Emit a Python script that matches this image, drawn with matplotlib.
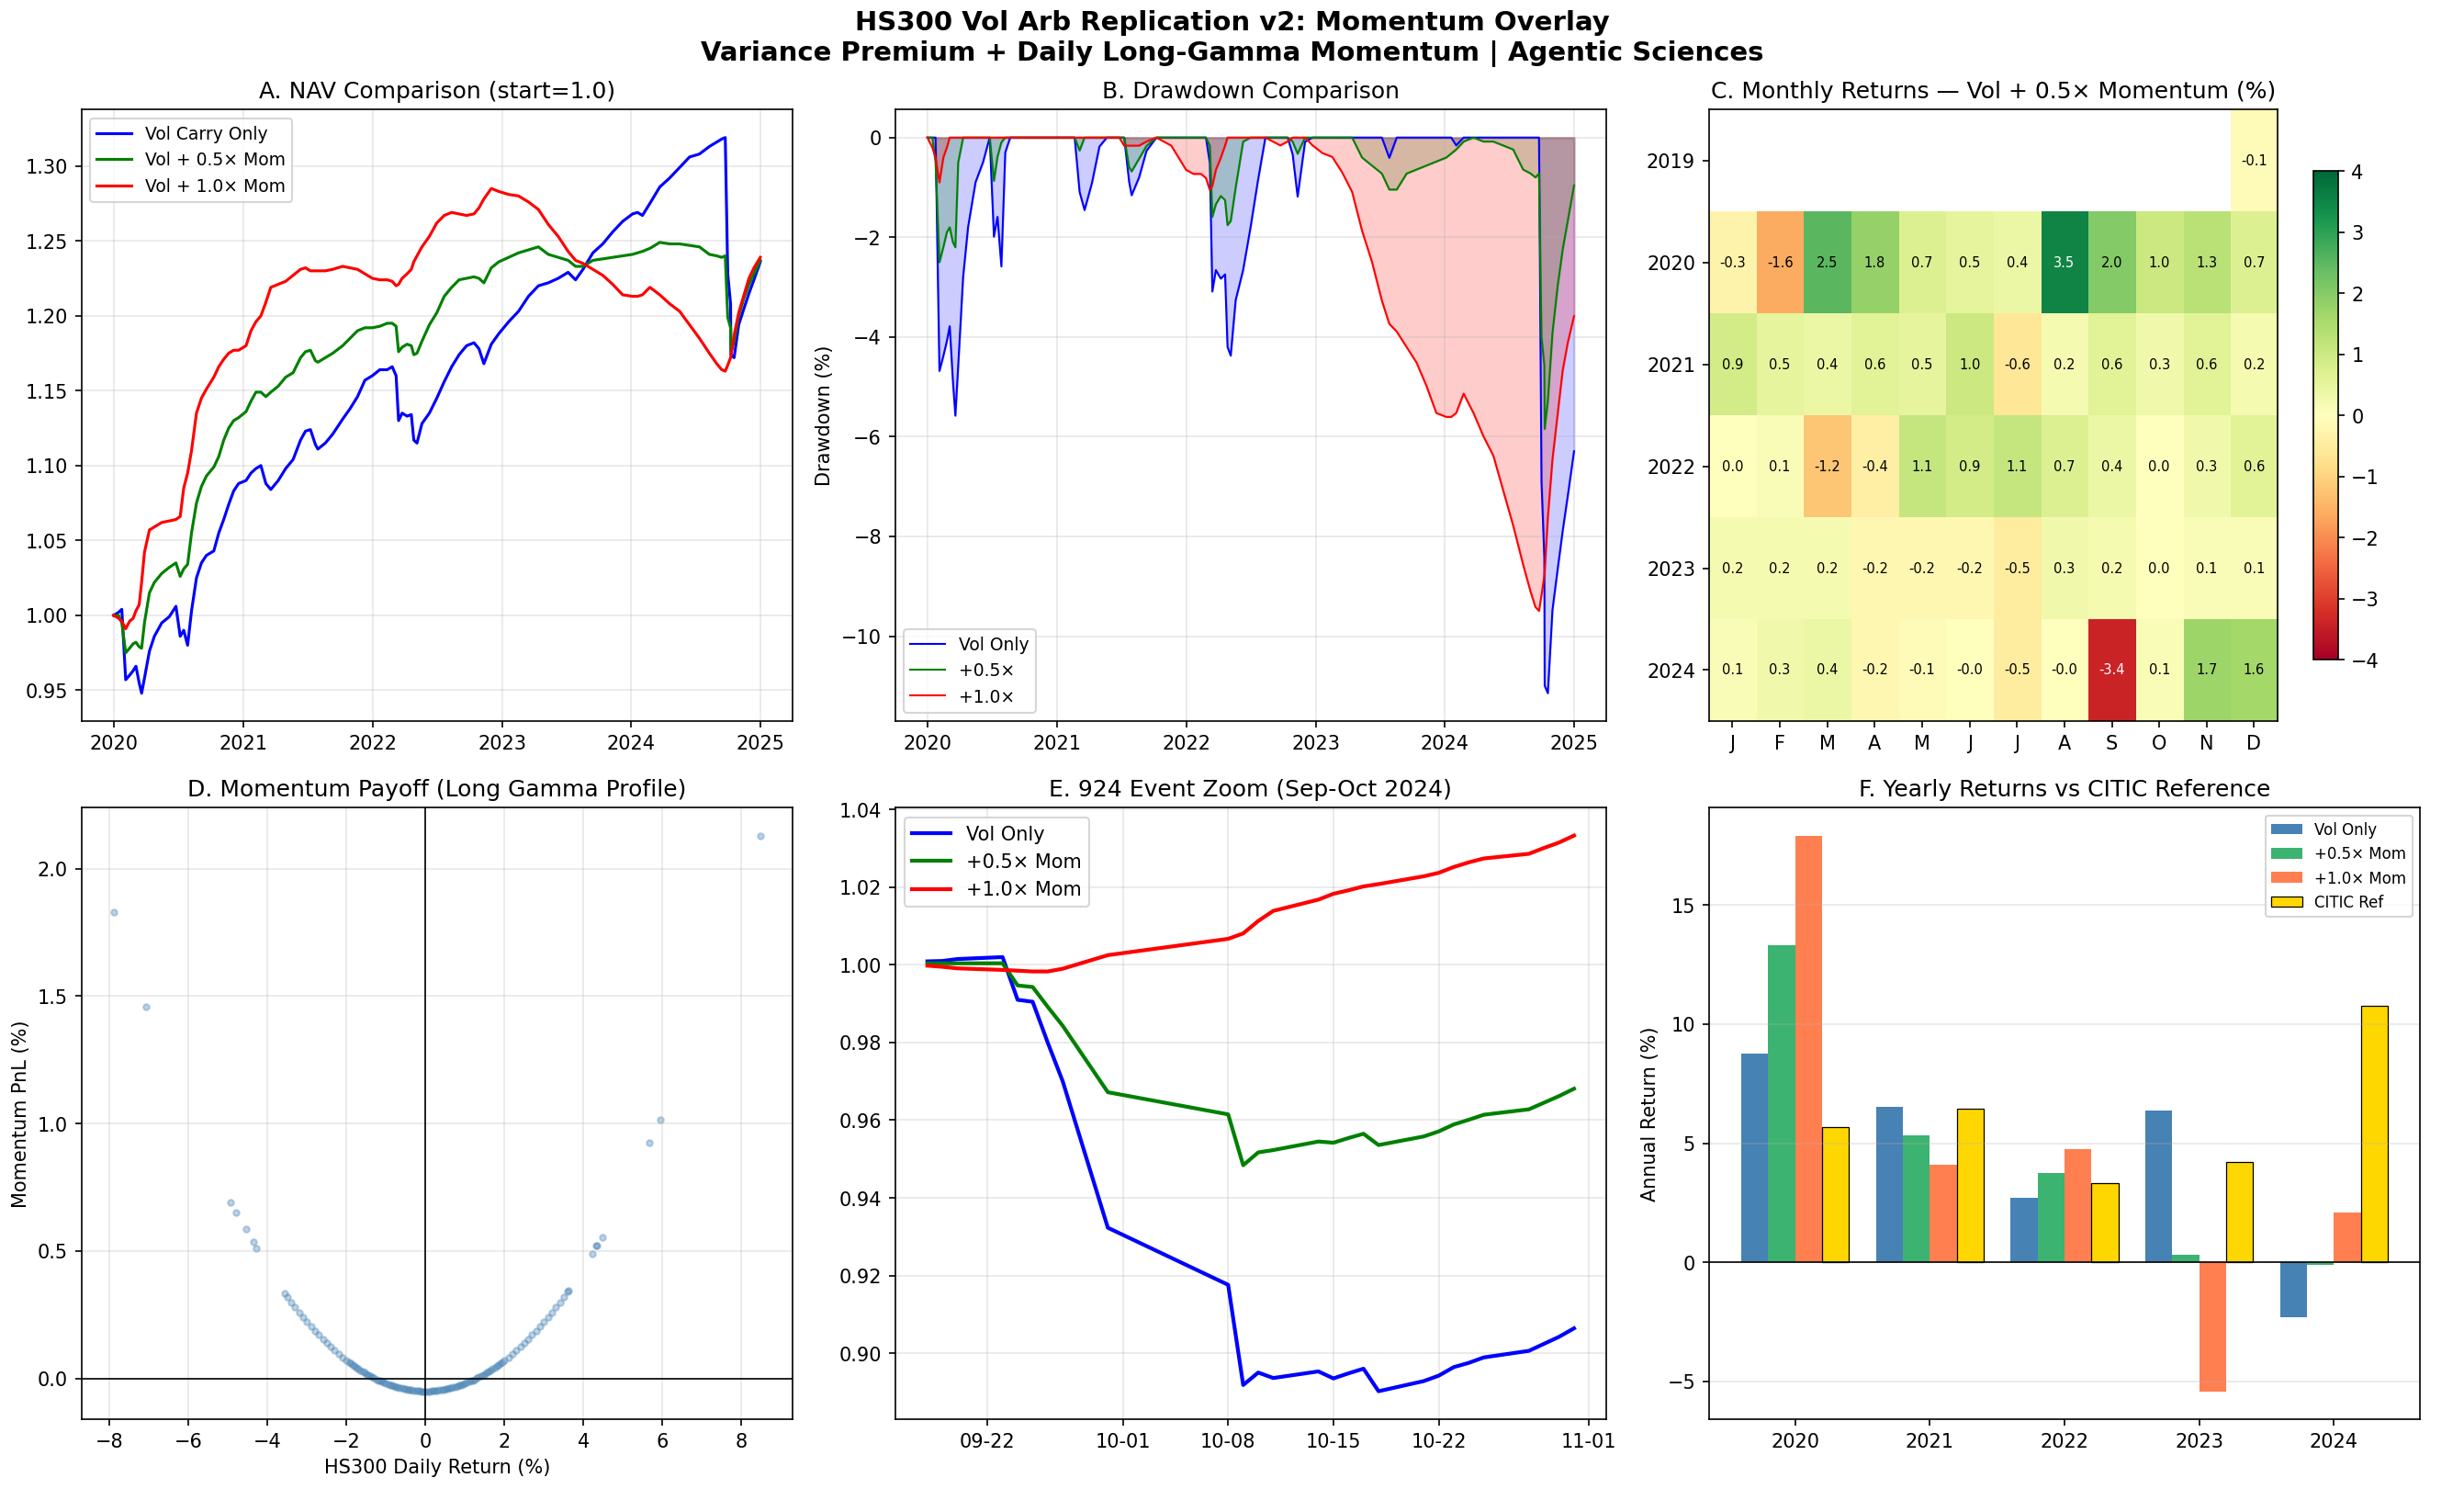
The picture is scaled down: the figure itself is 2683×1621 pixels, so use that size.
import numpy as np
import pandas as pd
import matplotlib
matplotlib.use("Agg")
import matplotlib.pyplot as plt
import matplotlib.dates as mdates
from matplotlib.ticker import MultipleLocator

# ---------------- DATA ----------------
nav_dates = [
    "2019-12-31", "2020-01-14", "2020-01-23", "2020-02-03", "2020-02-14", "2020-02-24", "2020-03-03", "2020-03-12", "2020-03-19", "2020-03-27",
    "2020-04-10", "2020-04-24", "2020-05-15", "2020-06-05", "2020-06-24", "2020-07-06", "2020-07-16", "2020-07-27", "2020-08-07", "2020-08-21",
    "2020-09-04", "2020-09-18", "2020-10-09", "2020-10-23", "2020-11-06", "2020-11-20", "2020-12-04", "2020-12-18", "2021-01-08", "2021-01-22",
    "2021-02-05", "2021-02-19", "2021-03-05", "2021-03-19", "2021-04-09", "2021-04-30", "2021-05-21", "2021-06-11", "2021-06-25", "2021-07-09",
    "2021-07-23", "2021-07-30", "2021-08-20", "2021-09-10", "2021-10-08", "2021-10-29", "2021-11-19", "2021-12-10", "2021-12-31", "2022-01-21",
    "2022-02-11", "2022-02-25", "2022-03-08", "2022-03-15", "2022-03-25", "2022-04-08", "2022-04-20", "2022-04-27", "2022-05-06", "2022-05-20",
    "2022-06-10", "2022-07-01", "2022-07-22", "2022-08-12", "2022-09-02", "2022-09-23", "2022-10-14", "2022-10-28", "2022-11-11", "2022-12-02",
    "2022-12-23", "2023-01-20", "2023-02-17", "2023-03-17", "2023-04-14", "2023-05-12", "2023-06-09", "2023-07-07", "2023-07-28", "2023-08-18",
    "2023-09-15", "2023-10-13", "2023-11-10", "2023-12-08", "2024-01-05", "2024-01-19", "2024-02-02", "2024-02-23", "2024-03-22", "2024-04-19",
    "2024-05-17", "2024-06-14", "2024-07-12", "2024-08-09", "2024-08-30", "2024-09-13", "2024-09-23", "2024-09-30", "2024-10-08", "2024-10-09",
    "2024-10-18", "2024-10-31", "2024-11-15", "2024-11-29", "2024-12-13", "2024-12-31",
]
nav_vol = [
    1.000, 1.002, 1.004, 0.957, 0.960, 0.963, 0.966, 0.955, 0.948, 0.958,
    0.976, 0.986, 0.995, 0.999, 1.006, 0.986, 0.990, 0.980, 1.003, 1.025,
    1.035, 1.040, 1.043, 1.055, 1.064, 1.074, 1.083, 1.088, 1.090, 1.095,
    1.098, 1.100, 1.088, 1.084, 1.090, 1.098, 1.104, 1.117, 1.123, 1.124,
    1.114, 1.111, 1.115, 1.121, 1.131, 1.138, 1.146, 1.157, 1.160, 1.164,
    1.164, 1.166, 1.160, 1.130, 1.135, 1.133, 1.134, 1.117, 1.115, 1.128,
    1.135, 1.145, 1.156, 1.166, 1.174, 1.180, 1.182, 1.178, 1.168, 1.181,
    1.188, 1.196, 1.203, 1.213, 1.220, 1.222, 1.225, 1.229, 1.224, 1.231,
    1.242, 1.248, 1.256, 1.263, 1.268, 1.269, 1.267, 1.275, 1.286, 1.292,
    1.299, 1.306, 1.308, 1.313, 1.316, 1.318, 1.319, 1.228, 1.208, 1.174,
    1.172, 1.194, 1.205, 1.215, 1.224, 1.236,
]
nav_half = [
    1.000, 1.000, 0.995, 0.975, 0.978, 0.981, 0.982, 0.979, 0.978, 0.995,
    1.015, 1.022, 1.028, 1.032, 1.035, 1.026, 1.031, 1.034, 1.055, 1.075,
    1.086, 1.093, 1.099, 1.106, 1.117, 1.125, 1.130, 1.132, 1.136, 1.143,
    1.149, 1.149, 1.146, 1.149, 1.153, 1.159, 1.162, 1.172, 1.176, 1.177,
    1.170, 1.169, 1.172, 1.175, 1.180, 1.185, 1.190, 1.192, 1.192, 1.193,
    1.195, 1.195, 1.193, 1.176, 1.179, 1.181, 1.180, 1.174, 1.175, 1.183,
    1.194, 1.202, 1.213, 1.219, 1.224, 1.225, 1.226, 1.225, 1.222, 1.232,
    1.236, 1.239, 1.242, 1.244, 1.246, 1.241, 1.239, 1.237, 1.233, 1.233,
    1.237, 1.238, 1.239, 1.240, 1.241, 1.242, 1.243, 1.245, 1.249, 1.248,
    1.248, 1.247, 1.246, 1.241, 1.240, 1.239, 1.240, 1.199, 1.192, 1.176,
    1.183, 1.200, 1.212, 1.221, 1.228, 1.237,
]
nav_full = [
    1.000, 0.998, 0.996, 0.991, 0.996, 0.998, 1.003, 1.007, 1.022, 1.042,
    1.057, 1.059, 1.062, 1.063, 1.064, 1.066, 1.085, 1.095, 1.110, 1.135,
    1.145, 1.151, 1.159, 1.166, 1.171, 1.175, 1.177, 1.177, 1.180, 1.190,
    1.196, 1.200, 1.209, 1.219, 1.221, 1.223, 1.227, 1.231, 1.232, 1.230,
    1.230, 1.230, 1.230, 1.231, 1.233, 1.232, 1.231, 1.228, 1.225, 1.224,
    1.224, 1.223, 1.220, 1.221, 1.225, 1.228, 1.231, 1.236, 1.240, 1.246,
    1.253, 1.262, 1.267, 1.269, 1.268, 1.267, 1.268, 1.272, 1.278, 1.285,
    1.283, 1.281, 1.280, 1.276, 1.271, 1.261, 1.253, 1.243, 1.237, 1.235,
    1.231, 1.227, 1.221, 1.214, 1.213, 1.213, 1.214, 1.219, 1.214, 1.208,
    1.203, 1.194, 1.185, 1.175, 1.168, 1.164, 1.163, 1.167, 1.172, 1.173,
    1.187, 1.202, 1.214, 1.225, 1.232, 1.239,
]

heat_years = ["2019", "2020", "2021", "2022", "2023", "2024"]
heat_months = ["J", "F", "M", "A", "M", "J", "J", "A", "S", "O", "N", "D"]
heat_2019 = [np.nan] * 11 + [-0.1]
heat_2020 = [-0.3, -1.6, 2.5, 1.8, 0.7, 0.5, 0.4, 3.5, 2.0, 1.0, 1.3, 0.7]
heat_2021 = [0.9, 0.5, 0.4, 0.6, 0.5, 1.0, -0.6, 0.2, 0.6, 0.3, 0.6, 0.2]
heat_2022 = [0.02, 0.1, -1.2, -0.4, 1.1, 0.9, 1.1, 0.7, 0.4, 0.03, 0.3, 0.6]
heat_2023 = [0.2, 0.2, 0.2, -0.2, -0.2, -0.2, -0.5, 0.3, 0.2, 0.01, 0.1, 0.1]
heat_2024 = [0.1, 0.3, 0.4, -0.2, -0.1, -0.03, -0.5, -0.03, -3.4, 0.1, 1.7, 1.6]

pay_x = [
    -7.9, -7.07, -4.95, -4.8, -4.55, -4.37, -4.28,
    -3.57, -3.5, -3.4, -3.3, -3.2, -3.1, -3.0, -2.9, -2.8, -2.7, -2.6, -2.5, -2.4, -2.3, -2.2, -2.1,
    -2.0, -1.95, -1.9, -1.85, -1.8, -1.75, -1.7, -1.65, -1.6, -1.55, -1.5, -1.45, -1.4, -1.35, -1.3, -1.25,
    -1.2, -1.15, -1.1, -1.05, -1.0, -0.95, -0.9, -0.85, -0.8, -0.75, -0.7, -0.65, -0.6, -0.55, -0.5, -0.45,
    -0.4, -0.35, -0.3, -0.25, -0.2, -0.15, -0.1, -0.05, 0.0,
    0.05, 0.1, 0.15, 0.2, 0.25, 0.3, 0.35, 0.4, 0.45, 0.5, 0.55, 0.6, 0.65, 0.7, 0.75, 0.8, 0.85, 0.9, 0.95,
    1.0, 1.05, 1.1, 1.15, 1.2, 1.25, 1.3, 1.35, 1.4, 1.45, 1.5, 1.55, 1.6, 1.65, 1.7, 1.75, 1.8, 1.85, 1.9,
    1.95, 2.0,
    2.1, 2.2, 2.3, 2.4, 2.5, 2.6, 2.7, 2.8, 2.9, 3.0, 3.1, 3.2, 3.3, 3.4, 3.5, 3.6, 3.62,
    4.22, 4.33, 4.35, 4.48, 5.67, 5.95, 8.48,
]
pay_y = [
    1.83, 1.46, 0.69, 0.65, 0.585, 0.535, 0.51,
    0.335, 0.320, 0.299, 0.279, 0.259, 0.240, 0.222, 0.204, 0.187, 0.170, 0.154, 0.139, 0.124, 0.110, 0.096, 0.083,
    0.071, 0.065, 0.059, 0.053, 0.048, 0.042, 0.037, 0.032, 0.027, 0.023, 0.018, 0.013, 0.009, 0.005, 0.001, -0.003,
    -0.007, -0.010, -0.013, -0.017, -0.020, -0.023, -0.026, -0.028, -0.031, -0.033, -0.035, -0.037, -0.039, -0.041, -0.042, -0.044,
    -0.045, -0.046, -0.047, -0.048, -0.049, -0.049, -0.050, -0.050, -0.050,
    -0.050, -0.050, -0.049, -0.049, -0.048, -0.047, -0.046, -0.045, -0.044, -0.042, -0.041, -0.039, -0.037, -0.035, -0.033, -0.031, -0.028, -0.026, -0.023,
    -0.020, -0.017, -0.013, -0.010, -0.007, -0.003, 0.001, 0.005, 0.009, 0.013, 0.018, 0.023, 0.027, 0.032, 0.037, 0.042, 0.048, 0.053, 0.059,
    0.065, 0.071,
    0.083, 0.096, 0.110, 0.124, 0.139, 0.154, 0.170, 0.187, 0.204, 0.222, 0.240, 0.259, 0.279, 0.299, 0.320, 0.341, 0.345,
    0.49, 0.52, 0.52, 0.555, 0.925, 1.015, 2.13,
]

evt_dates = [
    "2024-09-18", "2024-09-19", "2024-09-20", "2024-09-23", "2024-09-24", "2024-09-25", "2024-09-26", "2024-09-27", "2024-09-30",
    "2024-10-08", "2024-10-09", "2024-10-10", "2024-10-11", "2024-10-14", "2024-10-15", "2024-10-16", "2024-10-17", "2024-10-18",
    "2024-10-21", "2024-10-22", "2024-10-23", "2024-10-24", "2024-10-25", "2024-10-28", "2024-10-29", "2024-10-30", "2024-10-31",
]
evt_vol = [
    1.0009, 1.0010, 1.0015, 1.0020, 0.9910, 0.9905, 0.9800, 0.9700, 0.9323,
    0.9176, 0.8918, 0.8950, 0.8936, 0.8953, 0.8935, 0.8948, 0.8960, 0.8902,
    0.8928, 0.8942, 0.8964, 0.8975, 0.8989, 0.9006, 0.9024, 0.9042, 0.9064,
]
evt_half = [
    1.0004, 1.0004, 1.0004, 1.0004, 0.9947, 0.9943, 0.9892, 0.9843, 0.9672,
    0.9615, 0.9484, 0.9517, 0.9523, 0.9545, 0.9542, 0.9554, 0.9565, 0.9536,
    0.9558, 0.9571, 0.9589, 0.9601, 0.9614, 0.9628, 0.9645, 0.9662, 0.9681,
]
evt_full = [
    0.9998, 0.9995, 0.9991, 0.9987, 0.9985, 0.9983, 0.9983, 0.9990, 1.0025,
    1.0067, 1.0081, 1.0113, 1.0139, 1.0168, 1.0183, 1.0192, 1.0202, 1.0208,
    1.0228, 1.0237, 1.0252, 1.0264, 1.0274, 1.0286, 1.0301, 1.0315, 1.0333,
]

bar_years = ["2020", "2021", "2022", "2023", "2024"]
yr_vol = [8.77, 6.52, 2.71, 6.36, -2.31]
yr_half = [13.30, 5.34, 3.75, 0.30, -0.10]
yr_full = [17.92, 4.11, 4.74, -5.41, 2.08]
yr_citic = [5.69, 6.46, 3.34, 4.23, 10.79]

# ---------------- FIGURE ----------------
fig, axes = plt.subplots(2, 3, figsize=(17.89, 10.81), dpi=150)
fig.subplots_adjust(left=0.033, right=0.982, top=0.926, bottom=0.047,
                    wspace=0.144, hspace=0.142)
fig.suptitle("HS300 Vol Arb Replication v2: Momentum Overlay\n"
             "Variance Premium + Daily Long-Gamma Momentum | Agentic Sciences",
             fontsize=14, fontweight="bold", y=0.993)

d = pd.to_datetime(nav_dates)
series = [
    (np.array(nav_vol), "blue", "Vol Carry Only", "Vol Only"),
    (np.array(nav_half), "green", "Vol + 0.5\u00d7 Mom", "+0.5\u00d7"),
    (np.array(nav_full), "red", "Vol + 1.0\u00d7 Mom", "+1.0\u00d7"),
]

# A
ax = axes[0, 0]
for vals, c, lab, _ in series:
    ax.plot(d, vals, color=c, lw=1.5, label=lab)
ax.set_title("A. NAV Comparison (start=1.0)", fontsize=12)
ax.legend(loc="upper left", fontsize=9)
ax.grid(alpha=0.3)

# B
ax = axes[0, 1]
for vals, c, _, lab in series:
    dd = (vals / np.maximum.accumulate(vals) - 1.0) * 100
    ax.fill_between(d, dd, 0, color=c, alpha=0.2)
    ax.plot(d, dd, color=c, lw=1, label=lab)
ax.set_title("B. Drawdown Comparison", fontsize=12)
ax.set_ylabel("Drawdown (%)")
ax.legend(loc="lower left", fontsize=9)
ax.grid(alpha=0.3)

# C
ax = axes[0, 2]
mat = np.array([heat_2019, heat_2020, heat_2021, heat_2022, heat_2023, heat_2024])
im = ax.imshow(np.ma.masked_invalid(mat), cmap="RdYlGn", vmin=-4, vmax=4, aspect="auto")
for i in range(mat.shape[0]):
    for j in range(mat.shape[1]):
        v = mat[i, j]
        if np.isnan(v):
            continue
        ax.text(j, i, f"{v:.1f}", ha="center", va="center", fontsize=7,
                color="white" if abs(v) > 3 else "black")
ax.set_xticks(range(12))
ax.set_xticklabels(heat_months)
ax.set_yticks(range(len(heat_years)))
ax.set_yticklabels(heat_years)
ax.set_title("C. Monthly Returns \u2014 Vol + 0.5\u00d7 Momentum (%)", fontsize=12)
fig.colorbar(im, ax=ax, shrink=0.8)

# D
ax = axes[1, 0]
ax.scatter(pay_x, pay_y, s=10, alpha=0.35, color="steelblue")
ax.axhline(0, color="black", lw=0.8)
ax.axvline(0, color="black", lw=0.8)
ax.xaxis.set_major_locator(MultipleLocator(2))
ax.set_title("D. Momentum Payoff (Long Gamma Profile)", fontsize=12)
ax.set_xlabel("HS300 Daily Return (%)")
ax.set_ylabel("Momentum PnL (%)")
ax.grid(alpha=0.3)

# E
ax = axes[1, 1]
ed = pd.to_datetime(evt_dates)
ax.plot(ed, evt_vol, color="blue", lw=2, label="Vol Only")
ax.plot(ed, evt_half, color="green", lw=2, label="+0.5\u00d7 Mom")
ax.plot(ed, evt_full, color="red", lw=2, label="+1.0\u00d7 Mom")
ax.xaxis.set_major_formatter(mdates.DateFormatter("%m-%d"))
ax.set_title("E. 924 Event Zoom (Sep-Oct 2024)", fontsize=12)
ax.legend(loc="upper left")
ax.grid(alpha=0.3)

# F
ax = axes[1, 2]
x = np.arange(len(bar_years))
w = 0.2
ax.bar(x - 1.5 * w, yr_vol, w, color="steelblue", label="Vol Only")
ax.bar(x - 0.5 * w, yr_half, w, color="mediumseagreen", label="+0.5\u00d7 Mom")
ax.bar(x + 0.5 * w, yr_full, w, color="coral", label="+1.0\u00d7 Mom")
ax.bar(x + 1.5 * w, yr_citic, w, color="gold", edgecolor="black", linewidth=0.6, label="CITIC Ref")
ax.axhline(0, color="black", lw=0.8)
ax.set_xticks(x)
ax.set_xticklabels(bar_years)
ax.set_ylabel("Annual Return (%)")
ax.set_title("F. Yearly Returns vs CITIC Reference", fontsize=12)
ax.legend(loc="upper right", fontsize=8)
ax.grid(axis="y", alpha=0.3)

fig.savefig("out.png", dpi=150)
